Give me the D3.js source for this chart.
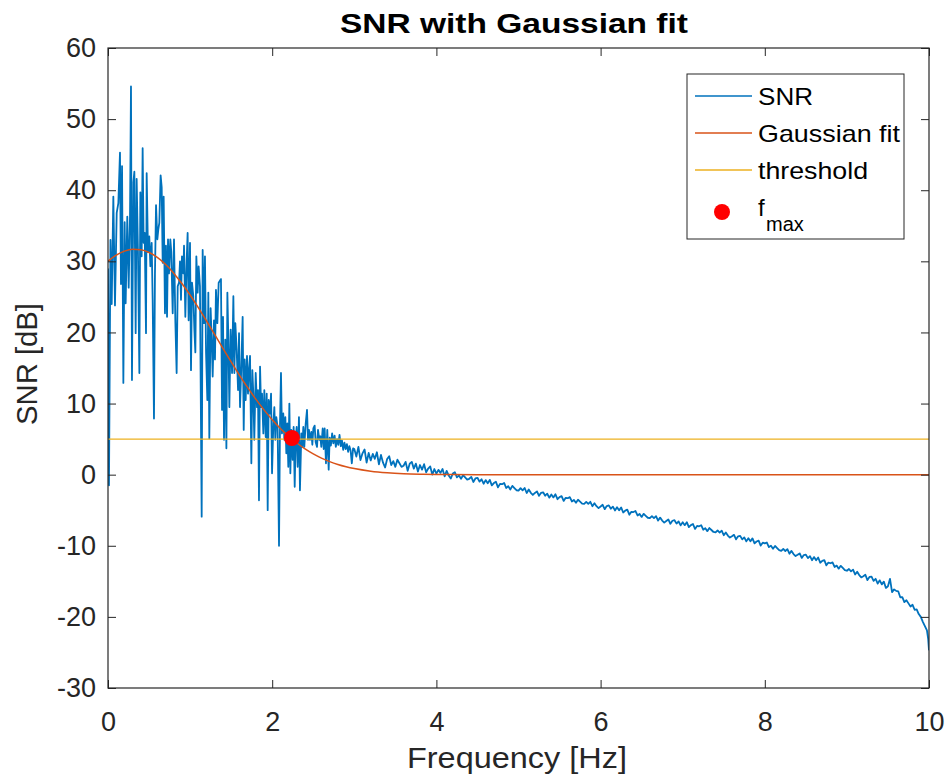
<!DOCTYPE html>
<html>
<head>
<meta charset="utf-8">
<script src="https://cdn.jsdelivr.net/npm/d3@7"></script>
<style>
  body { margin: 0; background: #fff; }
  svg { display: block; }
</style>
</head>
<body>
<div id="chart"></div>
<script>
// ---- data ----
var titleText = "SNR with Gaussian fit";
var xLabel = "Frequency [Hz]";
var yLabel = "SNR [dB]";
var xDomain = [0, 10];
var yDomain = [-30, 60];
var xTicks = [0, 2, 4, 6, 8, 10];
var yTicks = [-30, -20, -10, 0, 10, 20, 30, 40, 50, 60];
var legendLabels = ["SNR", "Gaussian fit", "threshold", "f", "max"];

// noisy low-frequency part of the SNR curve, [Hz, dB]
var snrLow = [
  [0,29],[0.012,-1.5],[0.03,33],[0.045,24],[0.065,39.1],[0.085,23.8],[0.106,36.8],[0.126,38.2],
  [0.146,45.3],[0.158,26.8],[0.171,43.4],[0.187,12.9],[0.203,35.5],[0.215,24.1],[0.235,36.3],
  [0.252,26.3],[0.268,36.3],[0.28,54.6],[0.292,13.3],[0.309,41.1],[0.321,42.6],[0.337,19.9],
  [0.349,41.6],[0.365,31.3],[0.382,14.3],[0.394,39.7],[0.41,30.7],[0.422,45.9],[0.434,32.6],
  [0.447,34.0],[0.463,19.9],[0.471,42.4],[0.487,31.3],[0.503,33.5],[0.516,29.3],[0.532,32.6],
  [0.544,24.6],[0.56,7.9],[0.572,28.3],[0.585,37.9],[0.601,33.1],[0.613,34.5],[0.625,35.4],
  [0.641,42.1],[0.654,40.4],[0.666,29.8],[0.678,39.1],[0.694,22.7],[0.706,32.2],[0.719,22.2],
  [0.731,33.1],[0.743,28.3],[0.759,33.1],[0.771,31.3],[0.788,22.7],[0.804,33.1],[0.82,21.7],
  [0.836,14.3],[0.849,26.5],[0.865,27.0],[0.877,30.0],[0.889,24.6],[0.901,30.7],[0.918,28.3],
  [0.926,32.2],[0.942,22.2],[0.958,30.0],[0.97,34.0],[0.982,21.7],[0.999,32.6],[1.011,14.7],
  [1.023,27.0],[1.039,25.1],[1.052,20.4],[1.064,17.2],[1.076,30.7],[1.092,25.6],[1.104,29.3],
  [1.12,26.5],[1.141,-5.9],[1.153,31.6],[1.169,21.3],[1.181,30.7],[1.194,17.2],[1.21,10.5],
  [1.222,25.6],[1.234,5.1],[1.25,23.4],[1.263,19.0],[1.275,13.8],[1.291,21.7],[1.303,16.2],
  [1.315,26.0],[1.332,21.3],[1.348,27.0],[1.376,27.5],[1.389,9.1],[1.401,22.2],[1.413,4.9],
  [1.429,19.0],[1.442,3.7],[1.454,25.6],[1.466,19.0],[1.478,9.5],[1.494,20.4],[1.511,14.3],
  [1.527,25.1],[1.539,14.3],[1.551,21.3],[1.567,17.6],[1.584,11.9],[1.596,19.9],[1.608,9.5],
  [1.624,15.2],[1.64,22.2],[1.653,6.3],[1.665,16.2],[1.677,10.5],[1.693,16.7],[1.705,11.4],
  [1.717,14.7],[1.73,16.7],[1.746,1.6],[1.758,14.7],[1.77,11.4],[1.782,4.9],[1.799,14.3],
  [1.815,9.5],[1.827,11.9],[1.839,-3.6],[1.852,15.2],[1.864,9.5],[1.876,11.4],[1.892,5.8],
  [1.904,11.9],[1.921,5.3],[1.933,11.4],[1.945,-5.0],[1.957,10.5],[1.973,8.6],[1.986,11.4],
  [1.998,0.2],[2.014,7.2],[2.026,9.5],[2.038,4.9],[2.05,8.1],[2.066,6.7],[2.083,-10.0],
  [2.095,7.2],[2.107,14.3],[2.119,5.8],[2.135,8.6],[2.148,4.9],[2.16,8.1],[2.172,3.0],
  [2.184,7.2],[2.196,1.1],[2.209,10.0],[2.221,0.2],[2.233,6.3],[2.249,2.1],[2.261,6.7],
  [2.274,-1.7],[2.286,4.9],[2.298,6.7],[2.31,1.1],[2.326,8.1],[2.338,-2.2],[2.355,5.8],
  [2.367,3.9],[2.379,6.7],[2.391,3.9],[2.408,7.2],[2.424,9.1],[2.436,4.9],[2.448,6.3],
  [2.46,4.9],[2.477,6.0],[2.489,4.2],[2.501,6.5],[2.517,6.9],[2.529,4.6],[2.546,3.9],
  [2.558,6.3],[2.574,4.9],[2.586,5.4],[2.598,3.9],[2.615,6.5],[2.627,3.6],[2.639,6.5],
  [2.655,1.6],[2.671,6.3],[2.688,0.7],[2.7,5.2],[2.715,4.1],[2.73,5.8],[2.745,4.4],[2.76,5.5],
  [2.775,3.9],[2.79,5.0],[2.805,4.2],[2.82,5.6],[2.835,4.0],[2.85,4.8],[2.865,3.5],[2.88,4.5],
  [2.895,3.6],[2.91,4.3],[2.925,3.2],[2.94,4.0],[2.955,3.4],[2.97,1.6],[2.985,3.7]
];

// SNR from 3.000 Hz on a 0.025 Hz grid (8 values per 0.2 Hz)
var tailStart = 3.0;
var tailStep = 0.025;
var snrTail = [
  3.6, 2.55, 3.9, 2.05, 3.0, 3.55, 1.7, 3.05,
  2.0, 2.92, 2.23, 3.15, 1.46, 2.78, 1.69, 1.01,
  2.2, 2.6, 1.35, 1.9, 1.1, 2.1, 1.6, 1.1,
  1.25, 1.8, 0.55, 1.55, 1.8, 0.85, 1.55, 0.45,
  1.36, 0.7, 1.47, 0.33, 0.86, 1.16, 0.01, 0.79,
  0.14, 0.68, 0.25, 0.79, -0.24, 0.54, -0.13, -0.55,
  0.16, 0.34, -0.37, -0.11, -0.58, -0.08, -0.39, -0.69,
  -0.58, -0.32, -1.03, -0.53, -0.44, -0.98, -0.65, -1.27,
  -0.76, -1.22, -0.73, -1.51, -1.18, -1.0, -1.79, -1.29,
  -1.34, -1.16, -1.87, -1.61, -2.08, -1.58, -1.89, -2.19,
  -2.24, -1.9, -2.21, -1.87, -2.58, -2.08, -2.55, -2.85,
  -2.57, -2.35, -2.98, -2.55, -2.48, -2.96, -2.68, -3.23,
  -2.79, -3.2, -2.76, -3.45, -3.16, -3.01, -3.69, -3.26,
  -3.31, -3.16, -3.77, -3.55, -3.96, -3.53, -3.79, -4.06,
  -4.11, -3.82, -4.1, -3.81, -4.44, -4.01, -4.43, -4.7,
  -4.47, -4.24, -4.85, -4.41, -4.32, -4.79, -4.49, -5.03,
  -4.59, -5.02, -4.61, -5.32, -5.05, -4.92, -5.63, -5.22,
  -5.26, -5.11, -5.74, -5.52, -5.94, -5.51, -5.79, -6.06,
  -6.11, -5.83, -6.11, -5.83, -6.46, -6.04, -6.46, -6.74,
  -6.52, -6.3, -6.91, -6.48, -6.4, -6.88, -6.58, -7.13,
  -6.69, -7.1, -6.68, -7.37, -7.09, -6.94, -7.63, -7.21,
  -7.26, -7.11, -7.74, -7.52, -7.94, -7.51, -7.78, -8.06,
  -8.11, -7.85, -8.14, -7.88, -8.52, -8.12, -8.56, -8.85,
  -8.67, -8.46, -9.09, -8.67, -8.61, -9.1, -8.82, -9.38,
  -8.94, -9.37, -8.96, -9.67, -9.4, -9.27, -9.97, -9.56,
  -9.66, -9.54, -10.18, -9.99, -10.42, -10.02, -10.32, -10.61,
  -10.71, -10.45, -10.74, -10.48, -11.12, -10.72, -11.16, -11.45,
  -11.27, -11.07, -11.71, -11.3, -11.24, -11.74, -11.46, -12.03,
  -11.59, -12.04, -11.65, -12.38, -12.13, -12.02, -12.75, -12.36,
  -12.46, -12.34, -12.98, -12.79, -13.22, -12.82, -13.12, -13.41,
  -13.51, -13.27, -13.6, -13.36, -14.04, -13.66, -14.12, -14.45,
  -14.28, -14.07, -14.83, -14.38, -14.34, -14.93, -14.64, -15.32,
  -14.86, -15.43, -15.04, -15.93, -15.7, -14.65, -16.52, -16.13,
  -16.34, -16.4, -17.24, -17.22, -17.92, -17.66, -18.1, -18.54,
  -18.3, -19.0, -18.95, -19.6, -20.0, -20.7, -21.3, -21.9
];
var snrEnd = [[9.99,-23.1],[10,-24.7]];

// Gaussian fit, sampled
var gaussFreq = [0,0.1,0.2,0.3,0.4,0.5,0.6,0.7,0.8,0.9,1.0,1.1,1.2,1.3,1.4,1.5,1.6,1.7,1.8,1.9,
  2.0,2.1,2.2,2.3,2.4,2.5,2.6,2.7,2.8,2.9,3.0,3.2,3.4,3.6,3.8,4.0,4.5,5,6,7,8,9,10];
var gaussDb = [30.0,30.86,31.43,31.69,31.62,31.24,30.55,29.58,28.34,26.88,25.26,23.48,21.61,19.68,
  17.75,15.85,14.01,12.27,10.62,9.11,7.73,6.49,5.40,4.45,3.62,2.92,2.33,1.84,1.44,1.12,0.86,
  0.49,0.27,0.14,0.07,0.03,0.005,0,0,0,0,0,0];

var thresholdDb = 5;
var fMax = [2.24, 5.16];

// ---- drawing ----
var W = 947, H = 784;
var axisColor = "#262626";
var fontFam = "'Liberation Sans', Arial, Helvetica, sans-serif";

var svg = d3.select("#chart").append("svg")
  .attr("width", W)
  .attr("height", H)
  .style("font-family", fontFam);

var x = d3.scaleLinear().domain(xDomain).range([108, 929]);
var y = d3.scaleLinear().domain(yDomain).range([688, 48]);

svg.append("defs").append("clipPath").attr("id", "plotclip")
  .append("rect").attr("x", 108).attr("y", 48).attr("width", 821).attr("height", 640);

var plot = svg.append("g").attr("clip-path", "url(#plotclip)");

var snrData = snrLow
  .concat(snrTail.map(function(v, i){ return [tailStart + i * tailStep, v]; }))
  .concat(snrEnd);

var line = d3.line().x(d => x(d[0])).y(d => y(d[1]));

plot.append("path")
  .datum(snrData)
  .attr("d", line)
  .attr("fill", "none")
  .attr("stroke", "#0072BD")
  .attr("stroke-width", 1.8)
  .attr("stroke-linejoin", "round");

var gaussData = gaussFreq.map((f, i) => [f, gaussDb[i]]);
plot.append("path")
  .datum(gaussData)
  .attr("d", d3.line().x(d => x(d[0])).y(d => y(d[1])).curve(d3.curveMonotoneX))
  .attr("fill", "none")
  .attr("stroke", "#D95319")
  .attr("stroke-width", 1.5);

plot.append("path")
  .datum([[xDomain[0], thresholdDb], [xDomain[1], thresholdDb]])
  .attr("d", line)
  .attr("fill", "none")
  .attr("stroke", "#EDB120")
  .attr("stroke-width", 1.3);

plot.append("circle")
  .attr("cx", x(fMax[0]))
  .attr("cy", y(fMax[1]))
  .attr("r", 8)
  .attr("fill", "#ff0000");

// axes, ticks pointing inward on all four sides
function styleAxis(g){
  g.select(".domain").remove();
  g.selectAll(".tick line").attr("stroke", axisColor).attr("stroke-width", 1);
  g.attr("font-family", fontFam).attr("font-size", 27);
  g.selectAll(".tick text").attr("fill", axisColor);
}

svg.append("g")
  .attr("transform", "translate(0,688)")
  .call(d3.axisBottom(x).tickValues(xTicks).tickSizeInner(-8).tickSizeOuter(0)
        .tickPadding(24).tickFormat(d => String(d)))
  .call(styleAxis);

svg.append("g")
  .attr("transform", "translate(108,0)")
  .call(d3.axisLeft(y).tickValues(yTicks).tickSizeInner(-8).tickSizeOuter(0)
        .tickPadding(12).tickFormat(d => String(d)))
  .call(styleAxis);

svg.append("g")
  .attr("transform", "translate(0,48)")
  .call(d3.axisTop(x).tickValues(xTicks).tickSizeInner(-8).tickSizeOuter(0).tickFormat(""))
  .call(styleAxis);

svg.append("g")
  .attr("transform", "translate(929,0)")
  .call(d3.axisRight(y).tickValues(yTicks).tickSizeInner(-8).tickSizeOuter(0).tickFormat(""))
  .call(styleAxis);

svg.append("rect")
  .attr("x", 108).attr("y", 48)
  .attr("width", 821).attr("height", 640)
  .attr("fill", "none")
  .attr("stroke", axisColor)
  .attr("stroke-width", 1.2);

// title and labels
svg.append("text")
  .attr("x", 340).attr("y", 33)
  .attr("font-size", 28).attr("font-weight", "bold")
  .attr("textLength", 348).attr("lengthAdjust", "spacingAndGlyphs")
  .attr("fill", "#000")
  .text(titleText);

svg.append("text")
  .attr("x", 407).attr("y", 768)
  .attr("font-size", 30)
  .attr("textLength", 220).attr("lengthAdjust", "spacingAndGlyphs")
  .attr("fill", axisColor)
  .text(xLabel);

svg.append("text")
  .attr("transform", "translate(37,425) rotate(-90)")
  .attr("font-size", 30)
  .attr("textLength", 122).attr("lengthAdjust", "spacingAndGlyphs")
  .attr("fill", axisColor)
  .text(yLabel);

// legend
var legend = svg.append("g");
legend.append("rect")
  .attr("x", 687).attr("y", 74).attr("width", 217).attr("height", 165)
  .attr("fill", "#fff").attr("stroke", axisColor).attr("stroke-width", 1);

var legendRows = [
  {label: legendLabels[0], color: "#0072BD", y: 96, len: 55},
  {label: legendLabels[1], color: "#D95319", y: 133, len: 142},
  {label: legendLabels[2], color: "#EDB120", y: 170, len: 110}
];
legendRows.forEach(function(r){
  legend.append("line")
    .attr("x1", 695).attr("x2", 752).attr("y1", r.y).attr("y2", r.y)
    .attr("stroke", r.color).attr("stroke-width", 1.3);
  legend.append("text")
    .attr("x", 758).attr("y", r.y + 9)
    .attr("font-size", 24)
    .attr("textLength", r.len).attr("lengthAdjust", "spacingAndGlyphs")
    .attr("fill", "#000")
    .text(r.label);
});
legend.append("circle")
  .attr("cx", 722).attr("cy", 212).attr("r", 8).attr("fill", "#ff0000");
var ft = legend.append("text")
  .attr("x", 758).attr("y", 216)
  .attr("font-size", 24).attr("fill", "#000");
ft.append("tspan").text(legendLabels[3]);
ft.append("tspan").attr("x", 766).attr("y", 231).attr("font-size", 20).text(legendLabels[4]);
</script>
</body>
</html>
